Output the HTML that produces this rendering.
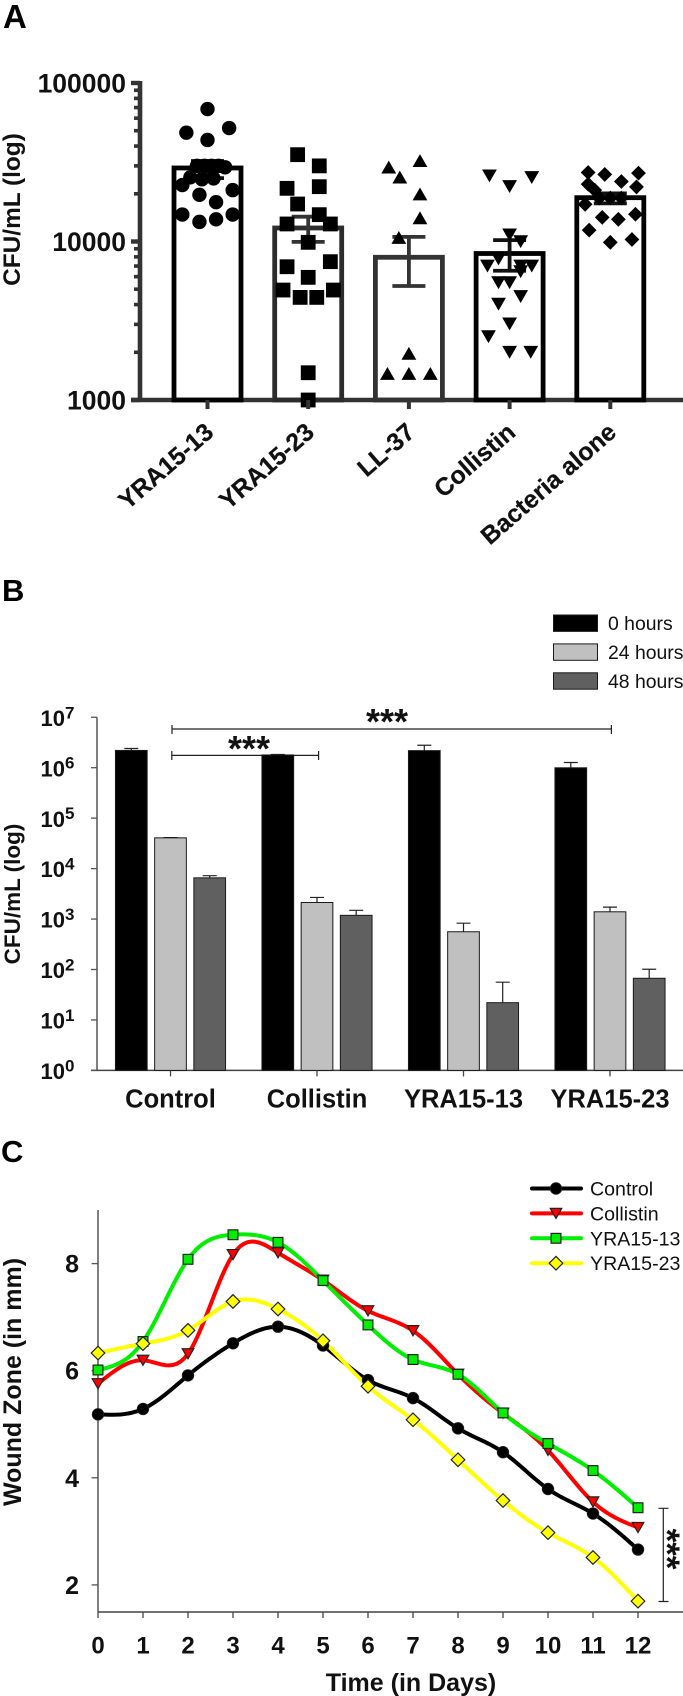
<!DOCTYPE html>
<html lang="en">
<head>
<meta charset="utf-8">
<title>Antimicrobial peptide figure panels A, B and C</title>
<style>
html,body{margin:0;padding:0;background:#fff;}
svg{display:block;font-family:"Liberation Sans",Arial,sans-serif;}
</style>
</head>
<body>
<svg id="fig" xmlns="http://www.w3.org/2000/svg" width="683" height="1696" viewBox="0 0 683 1696">
  <rect x="0" y="0" width="683" height="1696" fill="#fff"/>
  <text x="3" y="28" font-size="33" font-weight="bold">A</text>
  <text x="2" y="601" font-size="31" font-weight="bold">B</text>
  <text x="1" y="1162" font-size="31" font-weight="bold">C</text>
  <text transform="translate(20,209.5) rotate(-90)" text-anchor="middle" font-size="24.4" font-weight="bold" fill="#111">CFU/mL (log)</text>
  <text transform="translate(20,894) rotate(-90)" text-anchor="middle" font-size="22.5" font-weight="bold" fill="#111">CFU/mL (log)</text>
  <text transform="translate(21,1382) rotate(-90)" text-anchor="middle" font-size="25" font-weight="bold" fill="#111">Wound Zone (in mm)</text>
  <text x="411" y="1691" text-anchor="middle" font-size="25" font-weight="bold" fill="#111">Time (in Days)</text>
  <g stroke="#222" stroke-width="1.2" fill="none">
    <path d="M172 729H611.4M172 725V734M611.4 725V734"/>
  </g>
  <text x="387" y="734" text-anchor="middle" font-size="36" font-weight="bold" fill="#111">***</text>
  <g stroke="#222" stroke-width="1.2" fill="none">
    <path d="M171.8 755.4H318.6M171.8 751V760M318.6 751V760"/>
  </g>
  <text x="249" y="761" text-anchor="middle" font-size="36" font-weight="bold" fill="#111">***</text>
  <g stroke="#222" stroke-width="1.2" fill="none">
    <path d="M663.3 1508.3V1601.5M658.5 1508.3H668.5M658.5 1601.5H668.5"/>
  </g>
  <text transform="translate(655,1549) rotate(90)" text-anchor="middle" font-size="35" font-weight="bold" fill="#111">***</text>
  <g id="panelA"></g>
  <g id="panelB"></g>
  <g id="panelC"></g>
</svg>
<script>
/* Panel A data */
const aCategories = ['YRA15-13','YRA15-23','LL-37','Collistin','Bacteria alone'];
const aMeans = [29100,12170,7950,8400,18900];
const aErrHigh = [32200,14340,10700,10200,20100];
const aErrLow = [25100,9950,5240,6540,17400];
const aPointValues = [
  [68500,48600,52000,43700,30000,30000,30000,30000,29400,25400,24700,25000,22700,21100,19700,17700,14800,14800,13300,13800],
  [35300,30000,21650,22180,17240,14770,12900,12900,9880,6930,7460,5940,4940,4940,4440,4440,1486,1000],
  [32400,29500,25500,19950,14100,10600,1970,1470,1470,1470],
  [25900,25300,22200,11000,9970,7760,7000,7000,7000,6450,5500,5500,4490,4020,3020,2510,2000,2000],
  [27250,26500,27000,23900,23000,22100,21100,18800,18800,18800,17170,14850,14200,13800,11800,10300,9880]
];
const aPointOffsets = [
  [0,-0.21,0.215,0,-0.105,-0.03,0.04,0.11,0.175,-0.17,-0.055,0.06,-0.25,0.25,-0.08,0.085,-0.25,0.25,-0.08,0.085],
  [-0.105,0.11,-0.21,0.11,-0.105,0.11,-0.21,0.22,0,-0.21,0.22,0,-0.25,0.25,-0.08,0.085,0,0],
  [0.11,-0.2,-0.09,0.11,0.11,-0.1,0,-0.213,0,0.213],
  [-0.2,0.22,0,0,0.11,-0.11,-0.22,0.22,0.11,0.11,-0.11,0,0.11,-0.11,0,-0.21,0,0.21],
  [-0.22,-0.055,0.28,0.11,-0.22,0.26,-0.155,-0.11,0,0.11,-0.25,0.25,-0.08,0.08,-0.21,0.215,0]
];
const aMarkers = ['circle','square','triangle-up','triangle-down','diamond'];
const aBarColors = ['#000','#2c2c2c','#333','#000','#000'];
const aMajorTicks = [1000,10000,100000];

/* Panel B data */
const bCategories = ['Control','Collistin','YRA15-13','YRA15-23'];
const bSeriesNames = ['0 hours','24 hours','48 hours'];
const bSeries0h = [2200000,1790000,2180000,996000];
const bSeries24h = [40700,2130,560,1393];
const bSeries48h = [6560,1185,22,67];
const bErr0h = [2400000,1830000,2790000,1270000];
const bErr24h = [41200,2680,828,1725];
const bErr48h = [7240,1490,56,101];
const bTickExponents = [0,1,2,3,4,5,6,7];

/* Panel C data */
const cDays = [0,1,2,3,4,5,6,7,8,9,10,11,12];
const cControl = [5.185,5.286,5.912,6.512,6.822,6.47,5.825,5.488,4.923,4.478,3.791,3.333,2.66];
const cCollistin = [5.757,6.195,6.316,8.168,8.202,7.69,7.118,6.747,5.933,5.205,4.512,3.549,3.071];
const cYRA1513 = [6.013,6.545,8.08,8.539,8.397,7.683,6.855,6.209,5.933,5.212,4.64,4.135,3.441];
const cYRA1523 = [6.33,6.505,6.754,7.293,7.152,6.559,5.71,5.084,4.337,3.576,2.976,2.512,1.697];
const cSeriesNames = ['Control','Collistin','YRA15-13','YRA15-23'];
const cYTicks = [2,4,6,8];

const NS = 'http://www.w3.org/2000/svg';
function mk(parent, tag, attrs, text) {
  const el = document.createElementNS(NS, tag);
  for (const k in attrs) el.setAttribute(k, attrs[k]);
  if (text !== undefined) el.textContent = text;
  parent.appendChild(el);
  return el;
}
function markerShape(parent, shape, cx, cy, s, fill, stroke, sw) {
  const style = {fill: fill, stroke: stroke, 'stroke-width': sw};
  if (shape === 'circle') return mk(parent, 'circle', Object.assign({cx: cx, cy: cy, r: s}, style));
  if (shape === 'square') return mk(parent, 'rect', Object.assign({x: cx - s, y: cy - s, width: 2 * s, height: 2 * s}, style));
  let pts;
  if (shape === 'triangle-up') pts = [[cx - s, cy + s * 0.87], [cx + s, cy + s * 0.87], [cx, cy - s * 0.87]];
  if (shape === 'triangle-down') pts = [[cx - s, cy - s * 0.87], [cx + s, cy - s * 0.87], [cx, cy + s * 0.87]];
  if (shape === 'diamond') pts = [[cx - s, cy], [cx, cy - s], [cx + s, cy], [cx, cy + s]];
  return mk(parent, 'polygon', Object.assign({points: pts.map(p => p.join(',')).join(' ')}, style));
}

/* ---------- Panel A ---------- */
(function () {
  const g = document.getElementById('panelA');
  const yA = v => 83 + (5 - Math.log10(v)) * 158.5;
  const xA = i => 207.5 + 100.7 * i;
  const base = yA(1000), halfBar = 33.5;
  const axisColor = '#333';

  const yAxis = mk(g, 'line', {x1: 140, x2: 140, y1: yA(100000) - 2, y2: base + 2, stroke: axisColor, 'stroke-width': 4.6});
  
  
  const xAxis = mk(g, 'line', {x1: 131, x2: 683, y1: base, y2: base, stroke: axisColor, 'stroke-width': 4.6});
  
  

  aMajorTicks.forEach(t => {
    const tick = mk(g, 'line', {x1: 131, x2: 140, y1: yA(t), y2: yA(t), stroke: axisColor, 'stroke-width': 4.4});
    
    
    const lab = mk(g, 'text', {x: 126, y: yA(t) + 9.7, 'text-anchor': 'end', 'font-size': 26.5, 'font-weight': 'bold', fill: '#111'}, String(t));
    
    
  });
  [1000, 10000].forEach(dec => {
    for (let m = 2; m <= 9; m++) {
      const tick = mk(g, 'line', {x1: 134, x2: 140, y1: yA(dec * m), y2: yA(dec * m), stroke: axisColor, 'stroke-width': 3.6});
      
      
    }
  });

  aCategories.forEach((c, i) => {
    const x = xA(i);
    const bar = mk(g, 'rect', {x: x - halfBar, y: yA(aMeans[i]), width: 2 * halfBar, height: base - yA(aMeans[i]), fill: 'none', stroke: aBarColors[i], 'stroke-width': 4.8});
    
    

    const err = mk(g, 'path', {
      d: 'M' + (x - 16.5) + ' ' + yA(aErrHigh[i]) + 'H' + (x + 16.5) + 'M' + x + ' ' + yA(aErrHigh[i]) + 'V' + yA(aErrLow[i]) + 'M' + (x - 16.5) + ' ' + yA(aErrLow[i]) + 'H' + (x + 16.5),
      fill: 'none', stroke: aBarColors[i] === '#000' ? '#111' : '#333', 'stroke-width': 3.8
    });
    
    

    aPointValues[i].forEach((v, k) => {
      const p = markerShape(g, aMarkers[i], x + aPointOffsets[i][k] * 100.7, yA(v), aMarkers[i] === 'circle' ? 7.2 : 7.4, '#000', 'none', 0);
      
      
    });

    const tick = mk(g, 'line', {x1: x, x2: x, y1: base, y2: base + 9, stroke: axisColor, 'stroke-width': 4});
    
    

    const lab = mk(g, 'text', {transform: 'translate(' + (x + 7.5) + ',434.5) rotate(-41)', 'text-anchor': 'end', 'font-size': 24.8, 'font-weight': 'bold', fill: '#111', stroke: '#111', 'stroke-width': 0.25}, c);
    
    
  });
})();

/* ---------- Panel B ---------- */
(function () {
  const g = document.getElementById('panelB');
  const yB = v => 1070.4 - Math.log10(v) * 50.45;
  const xB = i => 170.5 + 146.5 * i;
  const base = yB(1), barW = 31.7, step = 39.2;
  const fills = ['#000', '#c0c0c0', '#606060'];
  const series = [bSeries0h, bSeries24h, bSeries48h];
  const errors = [bErr0h, bErr24h, bErr48h];

  const yAxis = mk(g, 'line', {x1: 97, x2: 97, y1: yB(1e7), y2: base, stroke: '#555', 'stroke-width': 1.5});
  
  
  const xAxis = mk(g, 'line', {x1: 91, x2: 683, y1: base, y2: base, stroke: '#444', 'stroke-width': 1.5});
  
  

  bTickExponents.forEach(e => {
    const y = yB(Math.pow(10, e));
    const tick = mk(g, 'line', {x1: 91, x2: 97, y1: y, y2: y, stroke: '#555', 'stroke-width': 1.3});
    
    
    const lab = mk(g, 'text', {x: 40.5, y: y + 8.6, 'font-size': 22, 'font-weight': 'bold', fill: '#111'}, '10');
    
    
    const sup = mk(lab, 'tspan', {dy: -7.6, 'font-size': 17}, String(e));
    
    
  });

  bCategories.forEach((c, i) => {
    const cx = xB(i);
    series.forEach((s, k) => {
      const x = cx + (k - 1) * step;
      const err = mk(g, 'path', {d: 'M' + (x - 7) + ' ' + yB(errors[k][i]) + 'H' + (x + 7) + 'M' + x + ' ' + yB(errors[k][i]) + 'V' + yB(s[i]), fill: 'none', stroke: '#222', 'stroke-width': 1.2});
      
      
      const bar = mk(g, 'rect', {x: x - barW / 2, y: yB(s[i]), width: barW, height: base - yB(s[i]), fill: fills[k], stroke: '#1a1a1a', 'stroke-width': 1});
      
      
    });
    const tick = mk(g, 'line', {x1: cx, x2: cx, y1: base, y2: base + 6, stroke: '#444', 'stroke-width': 1.3});
    
    
    const lab = mk(g, 'text', {x: cx, y: 1107.5, 'text-anchor': 'middle', 'font-size': 25.5, 'font-weight': 'bold', fill: '#111'}, c);
    
    
  });

  bSeriesNames.forEach((n, k) => {
    const top = 615 + k * 28.9;
    const sw = mk(g, 'rect', {x: 553.5, y: top, width: 44, height: 16.4, fill: fills[k], stroke: '#1a1a1a', 'stroke-width': 1});
    
    
    const lab = mk(g, 'text', {x: 608, y: top + 15, 'font-size': 19.4, fill: '#111'}, n);
    
    
  });
})();

/* ---------- Panel C ---------- */
(function () {
  const g = document.getElementById('panelC');
  const xC = d => 98 + d * 45;
  const yC = v => 1263.6 + (8 - v) * 53.55;
  const colors = ['#000', '#ff0000', '#00ee00', '#ffff00'];
  const shapes = ['circle', 'triangle-down', 'square', 'diamond'];
  const sizes = [5.8, 5.8, 4.9, 6.8];
  const series = [cControl, cCollistin, cYRA1513, cYRA1523];

  function spline(xs, ys) {
    const n = xs.length, d2 = new Array(n).fill(0), u = new Array(n).fill(0);
    for (let i = 1; i < n - 1; i++) {
      const sig = (xs[i] - xs[i - 1]) / (xs[i + 1] - xs[i - 1]);
      const p = sig * d2[i - 1] + 2;
      d2[i] = (sig - 1) / p;
      const r = (ys[i + 1] - ys[i]) / (xs[i + 1] - xs[i]) - (ys[i] - ys[i - 1]) / (xs[i] - xs[i - 1]);
      u[i] = (6 * r / (xs[i + 1] - xs[i - 1]) - sig * u[i - 1]) / p;
    }
    for (let i = n - 2; i >= 0; i--) d2[i] = d2[i] * d2[i + 1] + u[i];
    let d = '';
    for (let i = 0; i < n - 1; i++) {
      const h = xs[i + 1] - xs[i];
      for (let s = 0; s <= 12; s++) {
        if (s === 0 && i > 0) continue;
        const b = s / 12, a = 1 - b;
        const val = a * ys[i] + b * ys[i + 1] + ((a * a * a - a) * d2[i] + (b * b * b - b) * d2[i + 1]) * h * h / 6;
        d += (d ? 'L' : 'M') + xC(xs[i] + b * h).toFixed(2) + ' ' + yC(val).toFixed(2);
      }
    }
    return d;
  }

  const yAxis = mk(g, 'line', {x1: 98, x2: 98, y1: 1210, y2: 1612, stroke: '#555', 'stroke-width': 1.5});
  
  
  const xAxis = mk(g, 'line', {x1: 98, x2: 683, y1: 1612, y2: 1612, stroke: '#444', 'stroke-width': 1.5});
  
  

  cYTicks.forEach(t => {
    const tick = mk(g, 'line', {x1: 91.6, x2: 98, y1: yC(t), y2: yC(t), stroke: '#555', 'stroke-width': 1.3});
    
    
    const lab = mk(g, 'text', {x: 79, y: yC(t) + 9, 'text-anchor': 'end', 'font-size': 25, 'font-weight': 'bold', fill: '#111'}, String(t));
    
    
  });
  cDays.forEach(d => {
    const tick = mk(g, 'line', {x1: xC(d), x2: xC(d), y1: 1612, y2: 1618, stroke: '#444', 'stroke-width': 1.3});
    
    
    const lab = mk(g, 'text', {x: xC(d), y: 1653.5, 'text-anchor': 'middle', 'font-size': 24, 'font-weight': 'bold', fill: '#111'}, String(d));
    
    
  });

  series.forEach((s, k) => {
    const line = mk(g, 'path', {d: spline(cDays, s), fill: 'none', stroke: colors[k], 'stroke-width': 4, 'stroke-linejoin': 'round'});
    
    
  });
  series.forEach((s, k) => {
    s.forEach((v, i) => {
      const m = markerShape(g, shapes[k], xC(cDays[i]), yC(v), sizes[k], colors[k], '#222', k === 0 ? 0.8 : 1.2);
      
      
    });
  });

  cSeriesNames.forEach((n, k) => {
    const y = 1188.5 + k * 24.9;
    const ln = mk(g, 'line', {x1: 532, x2: 581, y1: y, y2: y, stroke: colors[k], 'stroke-width': 4, 'stroke-linecap': 'round'});
    
    
    const mkr = markerShape(g, shapes[k], 556, y, sizes[k], colors[k], '#222', k === 0 ? 0.8 : 1.2);
    
    
    const lab = mk(g, 'text', {x: 590, y: y + 7, 'font-size': 19.6, fill: '#111'}, n);
    
    
  });
})();
</script>
</body>
</html>
